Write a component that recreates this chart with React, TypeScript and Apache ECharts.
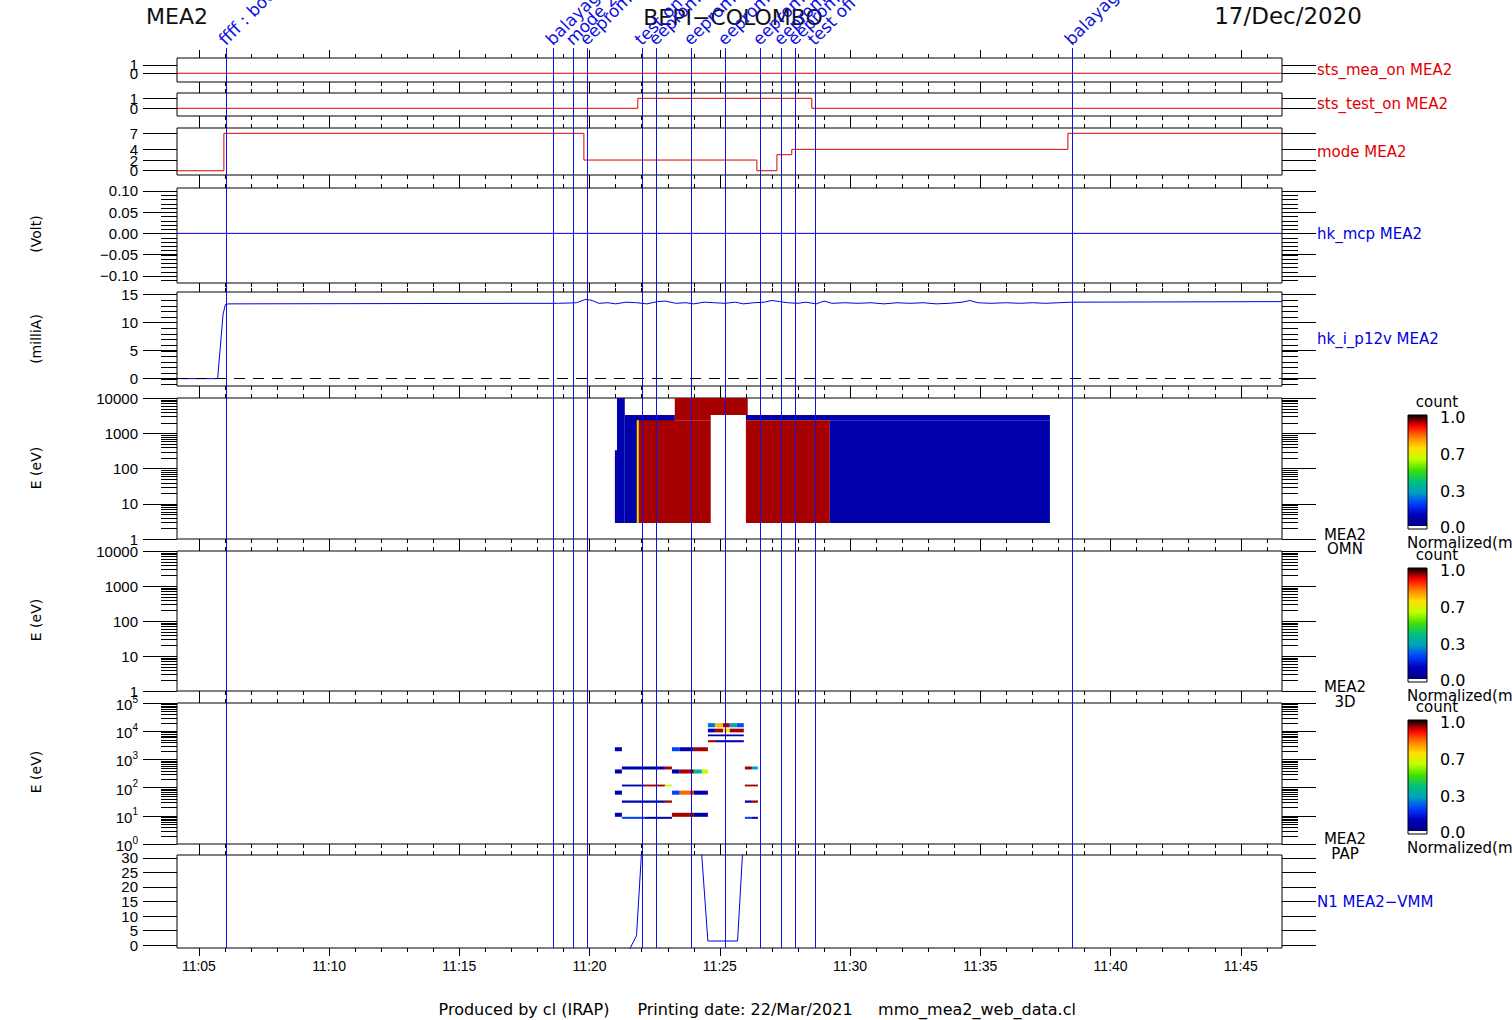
import React, { useEffect, useRef } from "react";
import * as echarts from "echarts";

// ---------------- time axis (minutes after 11:00 UT) ----------------
const X_MIN = 4.16;
const X_MAX = 46.58;
const majorTimes = [5, 10, 15, 20, 25, 30, 35, 40, 45];
const timeLabels = ["11:05", "11:10", "11:15", "11:20", "11:25", "11:30", "11:35", "11:40", "11:45"];
const minuteTimes: number[] = [];
for (let m = 5; m <= 46; m++) minuteTimes.push(m);

// ---------------- status panels ----------------
const stsMeaOnTime = [4.16, 46.58];
const stsMeaOnValue = [0, 0];
const stsTestOnTime = [4.16, 21.85, 28.53, 46.58];
const stsTestOnValue = [0, 1, 0, 0];
const modeTime = [4.16, 5.96, 19.78, 26.42, 27.19, 27.76, 38.36, 46.58];
const modeValue = [0, 7, 2, 0, 3, 4, 7, 7];
const binaryTicks = [0, 1];
const modeTicks = [0, 2, 4, 7];

// ---------------- housekeeping ----------------
const hkMcpTime = [4.16, 46.58];
const hkMcpValue = [0, 0];
const mcpTicks = [-0.1, -0.05, 0, 0.05, 0.1];
const p12vTime = [
  4.16, 5.72, 5.93, 6.02, 6.15, 18.8, 19.5, 19.85, 20.1, 20.35, 20.7, 21.0, 21.4, 21.8, 22.2, 22.6,
  22.9, 23.3, 23.7, 24.0, 24.4, 24.8, 25.2, 25.6, 25.9, 26.3, 26.7, 27.0, 27.3, 27.6, 28.0, 28.3,
  28.7, 29.0, 29.3, 29.8, 30.3, 30.8, 31.3, 31.8, 32.3, 32.8, 33.3, 33.8, 34.3, 34.6, 34.9, 35.4,
  36.0, 36.5, 37.0, 37.5, 38.0, 38.5, 46.58,
];
const p12vValue = [
  0, 0, 11.5, 13.2, 13.3, 13.4, 13.5, 14.1, 13.9, 13.4, 13.5, 13.3, 13.6, 13.5, 13.3, 13.7,
  13.8, 13.4, 13.5, 13.3, 13.6, 13.5, 13.4, 13.6, 13.3, 13.5, 13.6, 13.9, 13.7, 13.5, 13.4, 13.6,
  13.3, 13.8, 13.4, 13.5, 13.4, 13.5, 13.3, 13.5, 13.4, 13.5, 13.3, 13.4, 13.6, 13.9, 13.5, 13.4,
  13.5, 13.4, 13.5, 13.4, 13.5, 13.6, 13.7,
];
const p12vTicks = [0, 5, 10, 15];

// ---------------- spectrograms: [tStart, tEnd, eLow, eHigh, normalized count] ----------------
const omnBlocks = [
  [20.97, 21.05, 2.85, 330, 0.07],
  [21.05, 21.35, 2.85, 12000, 0.07],
  [21.35, 23.27, 2.85, 3300, 0.07],
  [21.81, 21.89, 2.85, 2350, 0.68],
  [21.89, 24.65, 2.85, 2350, 0.935],
  [23.27, 26.07, 3300, 12000, 0.935],
  [23.27, 24.65, 2350, 3300, 0.935],
  [26.0, 37.67, 2350, 3300, 0.07],
  [26.0, 29.22, 2.85, 2350, 0.935],
  [29.22, 37.67, 2.85, 2350, 0.07],
];
const papBlocks = [
  [20.97, 21.24, 1950, 2700, 0.07], [23.16, 23.46, 1950, 2700, 0.2], [23.46, 24.0, 1950, 2700, 0.07], [24.0, 24.54, 1950, 2700, 0.935],
  [24.54, 24.81, 13800, 19300, 0.25], [24.81, 25.12, 13800, 19300, 0.74], [25.12, 25.38, 13800, 19300, 0.935], [25.38, 25.65, 13800, 19300, 0.32], [25.65, 25.92, 13800, 19300, 0.22],
  [24.54, 24.81, 9100, 12300, 0.07], [24.81, 25.12, 9100, 12300, 0.935], [25.12, 25.38, 9100, 12300, 0.7], [25.38, 25.92, 9100, 12300, 0.935],
  [24.54, 25.92, 6600, 7600, 0.07],
  [24.54, 24.85, 4050, 4800, 0.935], [24.85, 25.92, 4050, 4800, 0.1],
  [20.97, 21.24, 316, 440, 0.07], [23.16, 23.46, 316, 440, 0.07], [23.46, 23.85, 316, 440, 0.935], [23.85, 24.0, 316, 440, 0.96], [24.0, 24.31, 316, 440, 0.36], [24.31, 24.54, 316, 440, 0.6],
  [21.24, 22.89, 440, 560, 0.07], [22.89, 23.16, 440, 560, 0.935], [25.96, 26.23, 440, 560, 0.935], [26.23, 26.46, 440, 560, 0.3],
  [21.24, 22.12, 110, 128, 0.07], [22.12, 22.89, 110, 128, 0.935], [22.89, 23.16, 110, 128, 0.6], [25.96, 26.46, 110, 128, 0.935],
  [20.97, 21.24, 56, 78, 0.07], [23.16, 23.46, 56, 78, 0.2], [23.46, 23.85, 56, 78, 0.82], [23.85, 24.0, 56, 78, 0.88], [24.0, 24.54, 56, 78, 0.07],
  [21.24, 22.89, 29, 35, 0.07], [22.89, 23.16, 29, 35, 0.935], [25.96, 26.23, 29, 35, 0.07], [26.23, 26.46, 29, 35, 0.935],
  [20.97, 21.24, 9.2, 12.8, 0.07], [23.16, 23.85, 9.2, 12.8, 0.935], [23.85, 24.0, 9.2, 12.8, 0.96], [24.0, 24.54, 9.2, 12.8, 0.07],
  [21.24, 22.12, 7.8, 9.2, 0.2], [22.12, 23.16, 7.8, 9.2, 0.07], [25.96, 26.23, 7.8, 9.2, 0.2], [26.23, 26.46, 7.8, 9.2, 0.07],
];

// ---------------- N1 ----------------
const n1Time = [21.5, 21.8, 21.99, 22.3, 24.0, 24.3, 24.54, 25.68, 25.87, 26.2];
const n1Value = [-2, 3.2, 31.5, 80, 80, 31.5, 1.4, 1.4, 31.5, 80];
const n1Ticks = [0, 5, 10, 15, 20, 25, 30];

// ---------------- events ----------------
const eventTime = [6.04, 18.59, 19.36, 19.89, 22.01, 22.54, 23.89, 25.19, 26.54, 27.34, 27.88, 28.65, 38.51];
const eventLabel = [
  "ffff : boot MEA2", "balayage HV", "mode 2", "eeprom load", "test on", "eeprom load", "eeprom load",
  "eeprom load", "eeprom load", "eeprom load", "eeprom load", "test off", "balayage HV",
];

// ---------------- colour table ----------------
const COLORMAP = ["#000080", "#0000c0", "#0040ff", "#00a0c0", "#00c080", "#40e000", "#c0ff00", "#ffe000", "#ff8000", "#ff0000", "#000000"];

const FONT = "'DejaVu Sans', sans-serif";
const FONT_T = "'Liberation Sans', 'DejaVu Sans', sans-serif";
const RED = "#e00000";
const BLUE = "#0000e0";
const EVT = "#1010e0";

const GRID_LEFT = 177;
const GRID_W = 1105;
const PANELS = [
  { top: 58, h: 24 },
  { top: 93, h: 23 },
  { top: 128, h: 47 },
  { top: 188, h: 95 },
  { top: 292, h: 94 },
  { top: 398, h: 141 },
  { top: 551, h: 140 },
  { top: 703, h: 141 },
  { top: 855, h: 93 },
];

const zip = (a: number[], b: number[]) => a.map((t, i) => [t, b[i]]);

function range(a: number, b: number, s: number) {
  const r: number[] = [];
  for (let v = a; v <= b + 1e-9; v += s) r.push(Math.round(v * 1000) / 1000);
  return r;
}
function logMinor(maxExp: number) {
  const r: number[] = [];
  for (let e = 0; e < maxExp; e++) for (let k = 2; k <= 9; k++) r.push(k * Math.pow(10, e));
  return r;
}

function buildOption() {
  const yCfgs: any[] = [
    { type: "value", min: -1.05, max: 1.84, ticks: binaryTicks },
    { type: "value", min: -0.77, max: 1.53, ticks: binaryTicks },
    { type: "value", min: -0.8, max: 8.0, ticks: modeTicks },
    { type: "value", min: -0.117, max: 0.107, ticks: mcpTicks, fmt: (v: number) => (v < -1e-9 ? "\u2212" : "") + Math.abs(v).toFixed(2) },
    { type: "value", min: -1.31, max: 15.41, ticks: p12vTicks },
    { type: "log", min: 1, max: 10000 },
    { type: "log", min: 1, max: 10000 },
    { type: "log", min: 1, max: 100000, rich: true },
    { type: "value", min: -1, max: 31, ticks: n1Ticks },
  ];

  const grids: any[] = PANELS.map((p) => ({
    left: GRID_LEFT, width: GRID_W, top: p.top, height: p.h,
    show: true, borderColor: "#000", borderWidth: 1, backgroundColor: "transparent",
  }));
  grids.push({ left: GRID_LEFT, width: GRID_W, top: 48, height: 900, show: false });

  const tickLine = { color: "#000", width: 1 };
  const xAxes: any[] = [];
  PANELS.forEach((_, i) => {
    const base = {
      gridIndex: i, type: "value", min: X_MIN, max: X_MAX,
      axisLine: { show: false, onZero: false }, splitLine: { show: false },
    };
    const last = i === PANELS.length - 1;
    xAxes.push({
      ...base, position: "bottom",
      axisTick: { show: true, inside: false, length: 4, customValues: minuteTimes, lineStyle: tickLine },
      axisLabel: last
        ? {
            show: true, customValues: majorTimes, margin: 11, color: "#000", fontSize: 14, fontFamily: FONT_T,
            formatter: (v: number) => timeLabels[majorTimes.indexOf(Math.round(v))] || "",
          }
        : { show: false },
    });
    xAxes.push({ ...base, position: "bottom", axisTick: { show: true, inside: false, length: 8, customValues: majorTimes, lineStyle: tickLine }, axisLabel: { show: false } });
    xAxes.push({ ...base, position: "top", axisTick: { show: true, inside: false, length: 4, customValues: minuteTimes, lineStyle: tickLine }, axisLabel: { show: false } });
    xAxes.push({ ...base, position: "top", axisTick: { show: true, inside: false, length: 8, customValues: majorTimes, lineStyle: tickLine }, axisLabel: { show: false } });
  });
  xAxes.push({ gridIndex: 9, type: "value", min: X_MIN, max: X_MAX, show: false });

  const yAxes: any[] = [];
  const extraYAxes: any[] = [];
  yCfgs.forEach((c, i) => {
    const base: any = {
      gridIndex: i, type: c.type, min: c.min, max: c.max,
      axisLine: { show: false, onZero: false }, splitLine: { show: false },
    };
    if (c.type === "log") base.logBase = 10;
    const tick: any = { show: true, inside: false, length: 34, lineStyle: tickLine };
    const label: any = {
      show: true, margin: 39, color: "#000", fontSize: 15, fontFamily: FONT_T,
      showMinLabel: true, showMaxLabel: true, hideOverlap: false,
    };
    let fmt: any;
    if (c.fmt) fmt = c.fmt;
    else if (c.type === "log" && c.rich) {
      fmt = (v: number) => `{b|10}{s|${Math.round(Math.log10(v))}}`;
      label.rich = {
        b: { fontSize: 15, fontFamily: FONT_T, color: "#000", lineHeight: 18, verticalAlign: "bottom" },
        s: { fontSize: 10, fontFamily: FONT_T, color: "#000", lineHeight: 10, verticalAlign: "top" },
      };
    } else if (c.type === "log") fmt = (v: number) => String(Math.round(v));
    else fmt = (v: number) => String(Math.round(v * 100) / 100);
    label.formatter = fmt;
    if (c.ticks) {
      tick.customValues = c.ticks;
      // labels split over two coincident axes so close labels are never dropped
      label.customValues = c.ticks.filter((_: number, k: number) => k % 2 === 0);
      extraYAxes.push({
        ...base, position: "left",
        axisTick: { show: false },
        axisLabel: { ...label, customValues: c.ticks.filter((_: number, k: number) => k % 2 === 1) },
      });
    }
    yAxes.push({ ...base, position: "left", axisTick: tick, axisLabel: label });
    yAxes.push({ ...base, position: "right", axisTick: { ...tick }, axisLabel: { show: false } });
  });
  yAxes.push({ gridIndex: 9, type: "value", min: 0, max: 1, show: false });
  yAxes.push(...extraYAxes);

  const lineSeries = (panel: number, data: number[][], color: string, step?: string, extra: any = {}) => ({
    type: "line", xAxisIndex: panel * 4, yAxisIndex: panel * 2, data, step: step || false,
    showSymbol: false, symbol: "none", lineStyle: { color, width: 1 }, itemStyle: { color },
    clip: true, silent: true, z: 3, ...extra,
  });

  const blockRender = (params: any, api: any) => {
    const p0 = api.coord([api.value(0), api.value(3)]);
    const p1 = api.coord([api.value(1), api.value(2)]);
    const shape = echarts.graphic.clipRectByRect(
      { x: p0[0], y: p0[1], width: p1[0] - p0[0], height: p1[1] - p0[1] },
      { x: params.coordSys.x, y: params.coordSys.y, width: params.coordSys.width, height: params.coordSys.height }
    );
    if (!shape) return null;
    return { type: "rect", shape, style: { fill: api.visual("color") } };
  };

  const minorRender = (len: number) => (params: any, api: any) => {
    const v = api.value(1);
    const l = api.coord([X_MIN, v]);
    const r = api.coord([X_MAX, v]);
    const y = Math.round(l[1]) + 0.5;
    return {
      type: "group",
      children: [
        { type: "line", shape: { x1: l[0] - len, y1: y, x2: l[0], y2: y }, style: { stroke: "#000", lineWidth: 1 } },
        { type: "line", shape: { x1: r[0], y1: y, x2: r[0] + len, y2: y }, style: { stroke: "#000", lineWidth: 1 } },
      ],
    };
  };
  const minorSeries = (panel: number, values: number[]) => ({
    type: "custom", xAxisIndex: panel * 4, yAxisIndex: panel * 2, clip: false, silent: true,
    data: values.map((v) => [X_MIN, v]), encode: { x: 0, y: 1 }, renderItem: minorRender(16),
  });

  const series: any[] = [
    lineSeries(0, zip(stsMeaOnTime, stsMeaOnValue), RED, "end"),
    lineSeries(1, zip(stsTestOnTime, stsTestOnValue), RED, "end"),
    lineSeries(2, zip(modeTime, modeValue), RED, "end"),
    lineSeries(3, zip(hkMcpTime, hkMcpValue), BLUE),
    lineSeries(4, zip(p12vTime, p12vValue), BLUE, undefined, {
      markLine: {
        silent: true, symbol: ["none", "none"], label: { show: false }, animation: false,
        lineStyle: { color: "#000", type: [11, 8], width: 1 }, data: [{ yAxis: 0 }],
      },
    }),
    {
      type: "custom", xAxisIndex: 20, yAxisIndex: 10, data: omnBlocks, silent: true,
      encode: { x: [0, 1], y: [2, 3] }, renderItem: blockRender, z: 2,
    },
    {
      type: "custom", xAxisIndex: 28, yAxisIndex: 14, data: papBlocks, silent: true,
      encode: { x: [0, 1], y: [2, 3] }, renderItem: blockRender, z: 2,
    },
    lineSeries(8, zip(n1Time, n1Value), BLUE),
    minorSeries(3, range(-0.11, 0.1, 0.01)),
    minorSeries(4, range(-1, 15, 1)),
    minorSeries(5, logMinor(4)),
    minorSeries(6, logMinor(4)),
    minorSeries(7, logMinor(5)),
    {
      type: "custom", xAxisIndex: 36, yAxisIndex: 18, clip: false, silent: true, z: 10,
      data: eventTime.map((t, i) => [t, i]), encode: { x: 0 },
      renderItem: (params: any, api: any) => {
        const t = api.value(0);
        const idx = api.value(1);
        const top = api.coord([t, 1]);
        const bot = api.coord([t, 0]);
        const x = Math.round(top[0]) + 0.5;
        return {
          type: "group",
          children: [
            { type: "line", shape: { x1: x, y1: top[1], x2: x, y2: bot[1] }, style: { stroke: EVT, lineWidth: 1 } },
            {
              type: "text", x: x + 1, y: top[1], rotation: Math.PI / 4,
              style: { text: eventLabel[idx], fill: EVT, font: `17px ${FONT}`, align: "left", verticalAlign: "bottom", textAlign: "left", textVerticalAlign: "bottom" },
            },
          ],
        };
      },
    },
  ];

  // ----- graphic texts & colour bars -----
  const txt = (text: string, x: number, y: number, opts: any = {}) => ({
    type: "text", x, y, silent: true,
    style: {
      text, fill: opts.color || "#000", font: `${opts.size || 14}px ${opts.family || FONT}`,
      textAlign: opts.align || "left", textVerticalAlign: "middle", align: opts.align || "left", verticalAlign: "middle",
    },
    rotation: opts.rotation || 0,
  });
  const gradStops = COLORMAP.map((c, i) => ({ offset: i / (COLORMAP.length - 1), color: c }));
  const barStops = [{ offset: 0, color: "#ffffff" }, { offset: 0.025, color: "#ffffff" }, ...gradStops.map((s) => ({ offset: 0.03 + s.offset * 0.97, color: s.color }))];
  const colorBar = (top: number) => [
    {
      type: "rect", shape: { x: 1408, y: top, width: 19, height: 114 }, silent: true,
      style: { fill: new echarts.graphic.LinearGradient(0, 1, 0, 0, barStops), stroke: "#000", lineWidth: 1 },
    },
    txt("count", 1437, top - 13, { align: "center", size: 15 }),
    txt("1.0", 1440, top + 2, { size: 16 }),
    txt("0.7", 1440, top + 39, { size: 16 }),
    txt("0.3", 1440, top + 76, { size: 16 }),
    txt("0.0", 1440, top + 112, { size: 16 }),
    txt("Normalized(m", 1407, top + 128, { size: 15 }),
  ];

  const graphic: any[] = [
    txt("MEA2", 146, 16, { size: 22, color: "#111" }),
    txt("BEPI\u2212COLOMBO", 733, 17, { size: 22, align: "center", color: "#111" }),
    txt("17/Dec/2020", 1362, 16, { size: 23, align: "right", color: "#111" }),
    txt("sts_mea_on MEA2", 1317, 70, { color: RED, size: 15 }),
    txt("sts_test_on MEA2", 1317, 104, { color: RED, size: 15 }),
    txt("mode MEA2", 1317, 152, { color: RED, size: 15 }),
    txt("hk_mcp MEA2", 1317, 234, { color: BLUE, size: 15 }),
    txt("hk_i_p12v MEA2", 1317, 339, { color: BLUE, size: 15 }),
    txt("N1 MEA2\u2212VMM", 1317, 902, { color: BLUE, size: 15 }),
    txt("MEA2", 1345, 535, { align: "center", size: 15 }),
    txt("OMN", 1345, 549, { align: "center", size: 15 }),
    txt("MEA2", 1345, 687, { align: "center", size: 15 }),
    txt("3D", 1345, 702, { align: "center", size: 15 }),
    txt("MEA2", 1345, 839, { align: "center", size: 15 }),
    txt("PAP", 1345, 854, { align: "center", size: 15 }),
    txt("(Volt)", 36, 234, { align: "center", rotation: Math.PI / 2 }),
    txt("(milliA)", 36, 339, { align: "center", rotation: Math.PI / 2 }),
    txt("E (eV)", 36, 468, { align: "center", rotation: Math.PI / 2 }),
    txt("E (eV)", 36, 620, { align: "center", rotation: Math.PI / 2 }),
    txt("E (eV)", 36, 772, { align: "center", rotation: Math.PI / 2 }),
    txt("Produced by cl (IRAP)", 524, 1009, { align: "center", size: 16 }),
    txt("Printing date: 22/Mar/2021", 745, 1009, { align: "center", size: 16 }),
    txt("mmo_mea2_web_data.cl", 977, 1009, { align: "center", size: 16 }),
    ...colorBar(415),
    ...colorBar(568),
    ...colorBar(720),
  ];

  return {
    animation: false,
    backgroundColor: "#fff",
    textStyle: { fontFamily: FONT },
    grid: grids,
    xAxis: xAxes,
    yAxis: yAxes,
    visualMap: [
      { type: "continuous", show: false, min: 0, max: 1, dimension: 4, seriesIndex: [5, 6], inRange: { color: COLORMAP } },
    ],
    series,
    graphic,
  };
}

export default function App() {
  const ref = useRef<HTMLDivElement>(null);
  useEffect(() => {
    document.body.style.margin = "0";
    const chart = echarts.init(ref.current!, null, { renderer: "svg", width: 1512, height: 1020 });
    chart.setOption(buildOption() as any);
    return () => chart.dispose();
  }, []);
  return <div ref={ref} style={{ width: 1512, height: 1020, background: "#fff" }} />;
}
